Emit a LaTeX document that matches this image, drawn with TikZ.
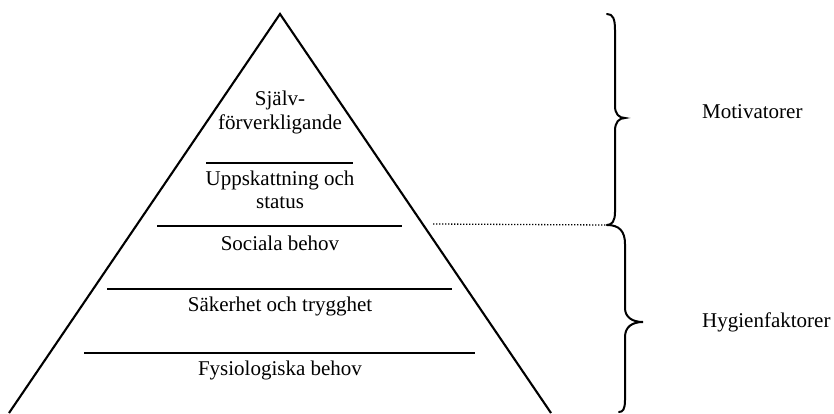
\documentclass[tikz,border=0pt]{standalone}
\usepackage{fontspec}
\setmainfont{Liberation Serif}
\begin{document}
\begin{tikzpicture}[x=1pt,y=-1pt,
  lbl/.style={inner sep=0pt,font=\fontsize{21}{25}\selectfont},
  rule/.style={line width=1.7pt},
  edge/.style={line width=2.1pt,line join=miter},
  brace/.style={line width=2pt,line cap=round}]
\useasboundingbox (0,0) rectangle (834,414);

% outline of the pyramid
\coordinate (apex) at (280,14);
\coordinate (bl) at (9,413);
\coordinate (br) at (551,413);
\draw[edge] (bl) -- (apex) -- (br);

% dividing rules between the levels
\coordinate (r1a) at (206,163); \coordinate (r1b) at (353,163);
\coordinate (r2a) at (157,226); \coordinate (r2b) at (402,226);
\coordinate (r3a) at (107,289); \coordinate (r3b) at (452,289);
\coordinate (r4a) at (84,353);  \coordinate (r4b) at (475,353);
\draw[rule] (r1a) -- (r1b);
\draw[rule] (r2a) -- (r2b);
\draw[rule] (r3a) -- (r3b);
\draw[rule,line width=2.4pt] (r4a) -- (r4b);

% level labels
\node[lbl] (l1a) at (280,100) {Själv-};
\node[lbl] (l1b) at (280,124) {förverkligande};
\node[lbl] (l2a) at (280,180) {Uppskattning och};
\node[lbl] (l2b) at (280,203) {status};
\node[lbl] (l3)  at (280,243) {Sociala behov};
\node[lbl] (l4)  at (280,306) {Säkerhet och trygghet};
\node[lbl] (l5)  at (280,370) {Fysiologiska behov};

% braces
\coordinate (btop) at (607,14);
\coordinate (bmid) at (607,225);
\coordinate (bbot) at (619,412);
\coordinate (tipA) at (625,118);
\coordinate (tipB) at (643,322);
\draw[brace] (btop) .. controls (613,14) and (615,19) .. (615,30)
  -- (615,106) .. controls (615,114) and (619,118) .. (tipA)
  .. controls (619,118) and (615,122) .. (615,131)
  -- (615,212) .. controls (615,221) and (612,225) .. (bmid);
\draw[brace] (bmid) .. controls (619,225) and (625,231) .. (625,244)
  -- (625,308) .. controls (625,317) and (632,322) .. (tipB)
  .. controls (632,322) and (625,327) .. (625,337)
  -- (625,400) .. controls (625,409) and (623,412) .. (bbot);

% dotted separator
\coordinate (dotL) at (433,224);
\draw[line width=1.3pt,dash pattern=on 1.3pt off 1.7pt] (dotL) -- (bmid);

% group labels
\node[lbl,anchor=west] (mot) at (702,112) {Motivatorer};
\node[lbl,anchor=west] (hyg) at (702,322) {Hygienfaktorer};
\end{tikzpicture}
\end{document}
